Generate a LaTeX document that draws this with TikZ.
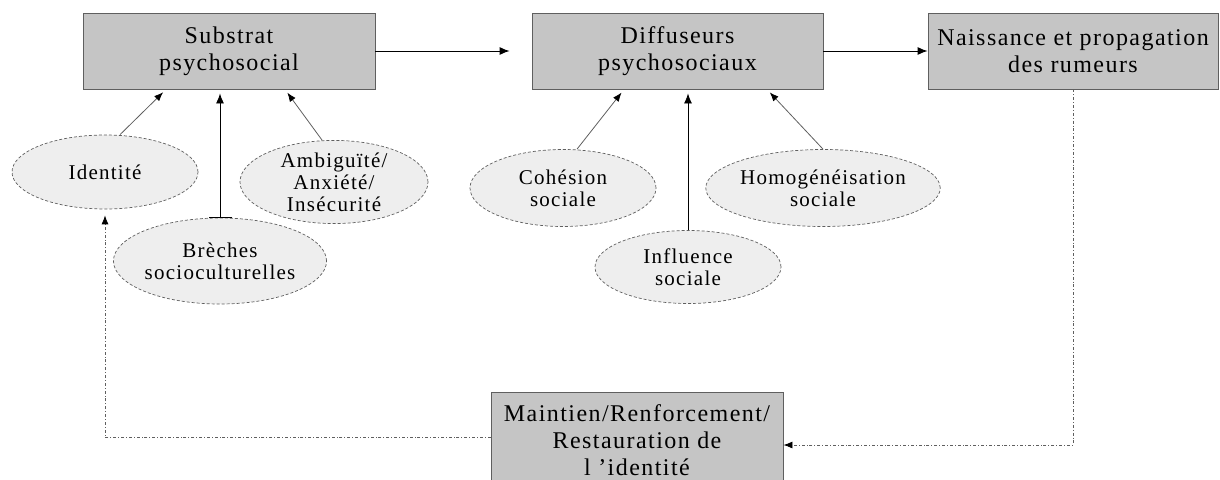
\documentclass[tikz,border=0pt]{standalone}
\usepackage{fontspec}
\setmainfont{Liberation Serif}
\newfontfamily\boxfont[LetterSpace=6]{Liberation Serif}
\usetikzlibrary{arrows.meta,shapes.geometric}
\definecolor{boxgray}{RGB}{197,197,197}
\definecolor{ovalgray}{RGB}{238,238,238}
\definecolor{edgegray}{RGB}{95,95,95}
\tikzset{
  stage/.style={draw=edgegray,line width=0.9pt,fill=boxgray,minimum height=76pt,
    inner sep=0pt,align=center,font=\boxfont\fontsize{24}{27}\selectfont},
  factor/.style={ellipse,draw=edgegray,densely dashed,line width=0.7pt,fill=ovalgray,
    inner sep=0pt,minimum width=186pt,align=center,font=\boxfont\fontsize{21}{22}\selectfont},
  flow/.style={-{Latex[length=10pt,width=8pt]},line width=0.9pt,black},
  feed/.style={-{Latex[length=9pt,width=7pt,color=black]},line width=0.8pt,edgegray},
  loop/.style={-{Latex[length=9pt,width=7pt,color=black]},line width=0.8pt,edgegray,dash dot}
}
\begin{document}
\begin{tikzpicture}[x=1pt,y=-1pt]
  \clip (0,0) rectangle (1220,479);
  \useasboundingbox (0,0) rectangle (1220,479);
  \node[stage,minimum width=292pt] (sub) at (229,51) {Substrat\\psychosocial};
  \node[stage,minimum width=291pt] (diff) at (677.5,51) {Diffuseurs\\psychosociaux};
  \node[stage,minimum width=290pt] (nais) at (1073,51) {Naissance et propagation\\des rumeurs};
  \node[stage,minimum width=292pt,minimum height=96pt] (maint) at (637,440)
    {Maintien/Renforcement/\\Restauration de\\l ’identité};
  \node[factor,minimum height=74pt] (ident) at (105,172) {Identité};
  \node[factor,minimum height=86pt] (brech) at (220,261) {Brèches\\socioculturelles};
  \node[factor,minimum width=188pt,minimum height=70pt] (amb) at (334,182)
    {Ambiguïté/\\Anxiété/\\Insécurité};
  \node[factor,minimum height=77pt] (cohes) at (563,188) {Cohésion\\sociale};
  \node[factor,minimum height=73pt] (influ) at (688,267) {Influence\\sociale};
  \node[factor,minimum height=77pt] (homog) at (823,188) {Homogénéisation\\sociale};
  \begin{scope}[shorten >=4pt]
    \draw[flow,shorten >=22pt] (sub) -- (diff);
    \draw[flow,shorten >=0pt] (diff) -- (nais);
    \draw[feed] ([xshift=15pt]ident.north) -- ([xshift=-63pt]sub.south);
    \draw[flow,{Bar[width=23pt]}-{Latex[length=10pt,width=8pt]}] (brech.north) -- (brech.north |- sub.south);
    \draw[feed] ([xshift=-12pt]amb.north) -- ([xshift=56pt]sub.south);
    \draw[feed] ([xshift=14pt]cohes.north) -- ([xshift=-53.5pt]diff.south);
    \draw[flow,line width=0.8pt] (influ.north) -- (influ.north |- diff.south);
    \draw[feed] (homog.north) -- ([xshift=89.5pt]diff.south);
    \draw[loop,shorten >=0pt] (nais.south) |- ([yshift=-5pt]maint.east);
    \draw[loop,shorten >=6pt] ([yshift=3pt]maint.west) -| (ident.south);
  \end{scope}
\end{tikzpicture}
\end{document}
